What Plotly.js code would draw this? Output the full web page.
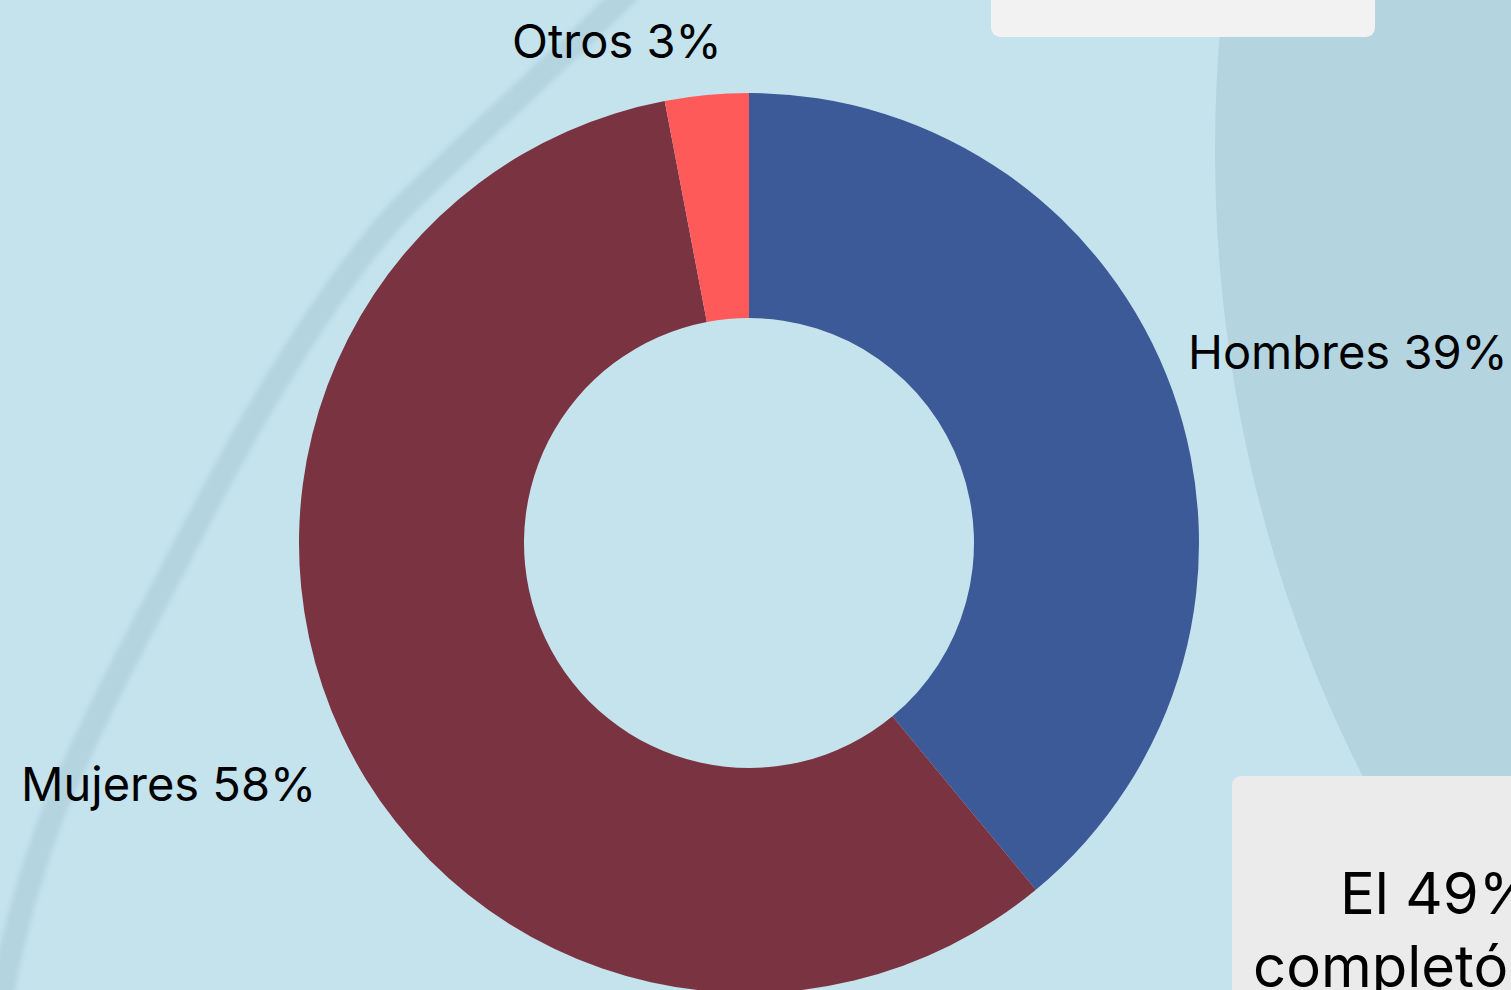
<!DOCTYPE html>
<html>
<head>
<meta charset="utf-8">
<script src="https://cdn.plot.ly/plotly-3.0.1.min.js"></script>
<style>
  html, body { margin: 0; padding: 0; width: 1511px; height: 990px; overflow: hidden; background: #c4e3ed; }
  #bg { position: absolute; left: 0; top: 0; }
  #chart { position: absolute; left: 0; top: 0; width: 1511px; height: 1000px; }
  .box { position: absolute; border-radius: 9px; }
  .note { position: absolute; font-family: Inter, "Noto Sans", sans-serif; font-size: 58px; color: #000; white-space: nowrap; line-height: 1; }
</style>
</head>
<body>
<svg id="bg" width="1511" height="990">
  <defs>
    <filter id="soft"><feGaussianBlur stdDeviation="2.5"/></filter>
  </defs>
  <ellipse cx="2250" cy="150" rx="1035" ry="1216" fill="#b4d4df"/>
  <path d="M 628 -8 C 565 55, 470 140, 400 210 C 330 285, 250 420, 200 518 C 150 612, 82 740, 50 821 C 30 875, 14 930, 2 995"
        fill="none" stroke="#b4d4df" stroke-width="24" stroke-linecap="round" filter="url(#soft)"/>
</svg>
<div id="chart"></div>
<div class="box" style="left:991px; top:-12px; width:384px; height:49px; background:#f2f2f2;"></div>
<div class="box" style="left:1232px; top:776px; width:400px; height:300px; background:#ebebeb;"></div>
<div class="note" style="left:1340px; top:864px;">El 49%</div>
<div class="note" style="left:1253px; top:937px;">completó</div>
<script>
  const labels = ['Hombres', 'Mujeres', 'Otros'];
  const shares = [39, 58, 3];
  const colors = ['#3c5998', '#7a3341', '#ff5a5a'];

  // where each slice label sits (paper coords) and how it is anchored
  const labelX = [0.986, 0.0215, 0.4725];
  const labelY = [0.713, 0.233, 1.058];
  const labelAnchor = ['left', 'right', 'right'];

  const total = shares.reduce((a, b) => a + b, 0);

  const trace = {
    type: 'pie',
    labels: labels,
    values: shares,
    hole: 0.5,
    sort: false,
    direction: 'clockwise',
    rotation: 0,
    textinfo: 'none',
    marker: { colors: colors, line: { width: 0 } },
    showlegend: false,
    hoverinfo: 'label+percent'
  };

  const font = { family: 'Inter, "Noto Sans", sans-serif', size: 47, color: '#000' };

  const annotations = labels.map((lab, i) => ({
    xref: 'paper', yref: 'paper',
    x: labelX[i], y: labelY[i],
    xanchor: labelAnchor[i], yanchor: 'middle',
    text: lab + ' ' + Math.round(shares[i] / total * 100) + '%',
    showarrow: false,
    font: font
  }));

  const layout = {
    width: 1511,
    height: 1000,
    margin: { l: 299, r: 312, t: 93, b: 7 },
    paper_bgcolor: 'rgba(0,0,0,0)',
    plot_bgcolor: 'rgba(0,0,0,0)',
    showlegend: false,
    annotations: annotations
  };

  Plotly.newPlot('chart', [trace], layout, { displayModeBar: false, staticPlot: true });
</script>
</body>
</html>
